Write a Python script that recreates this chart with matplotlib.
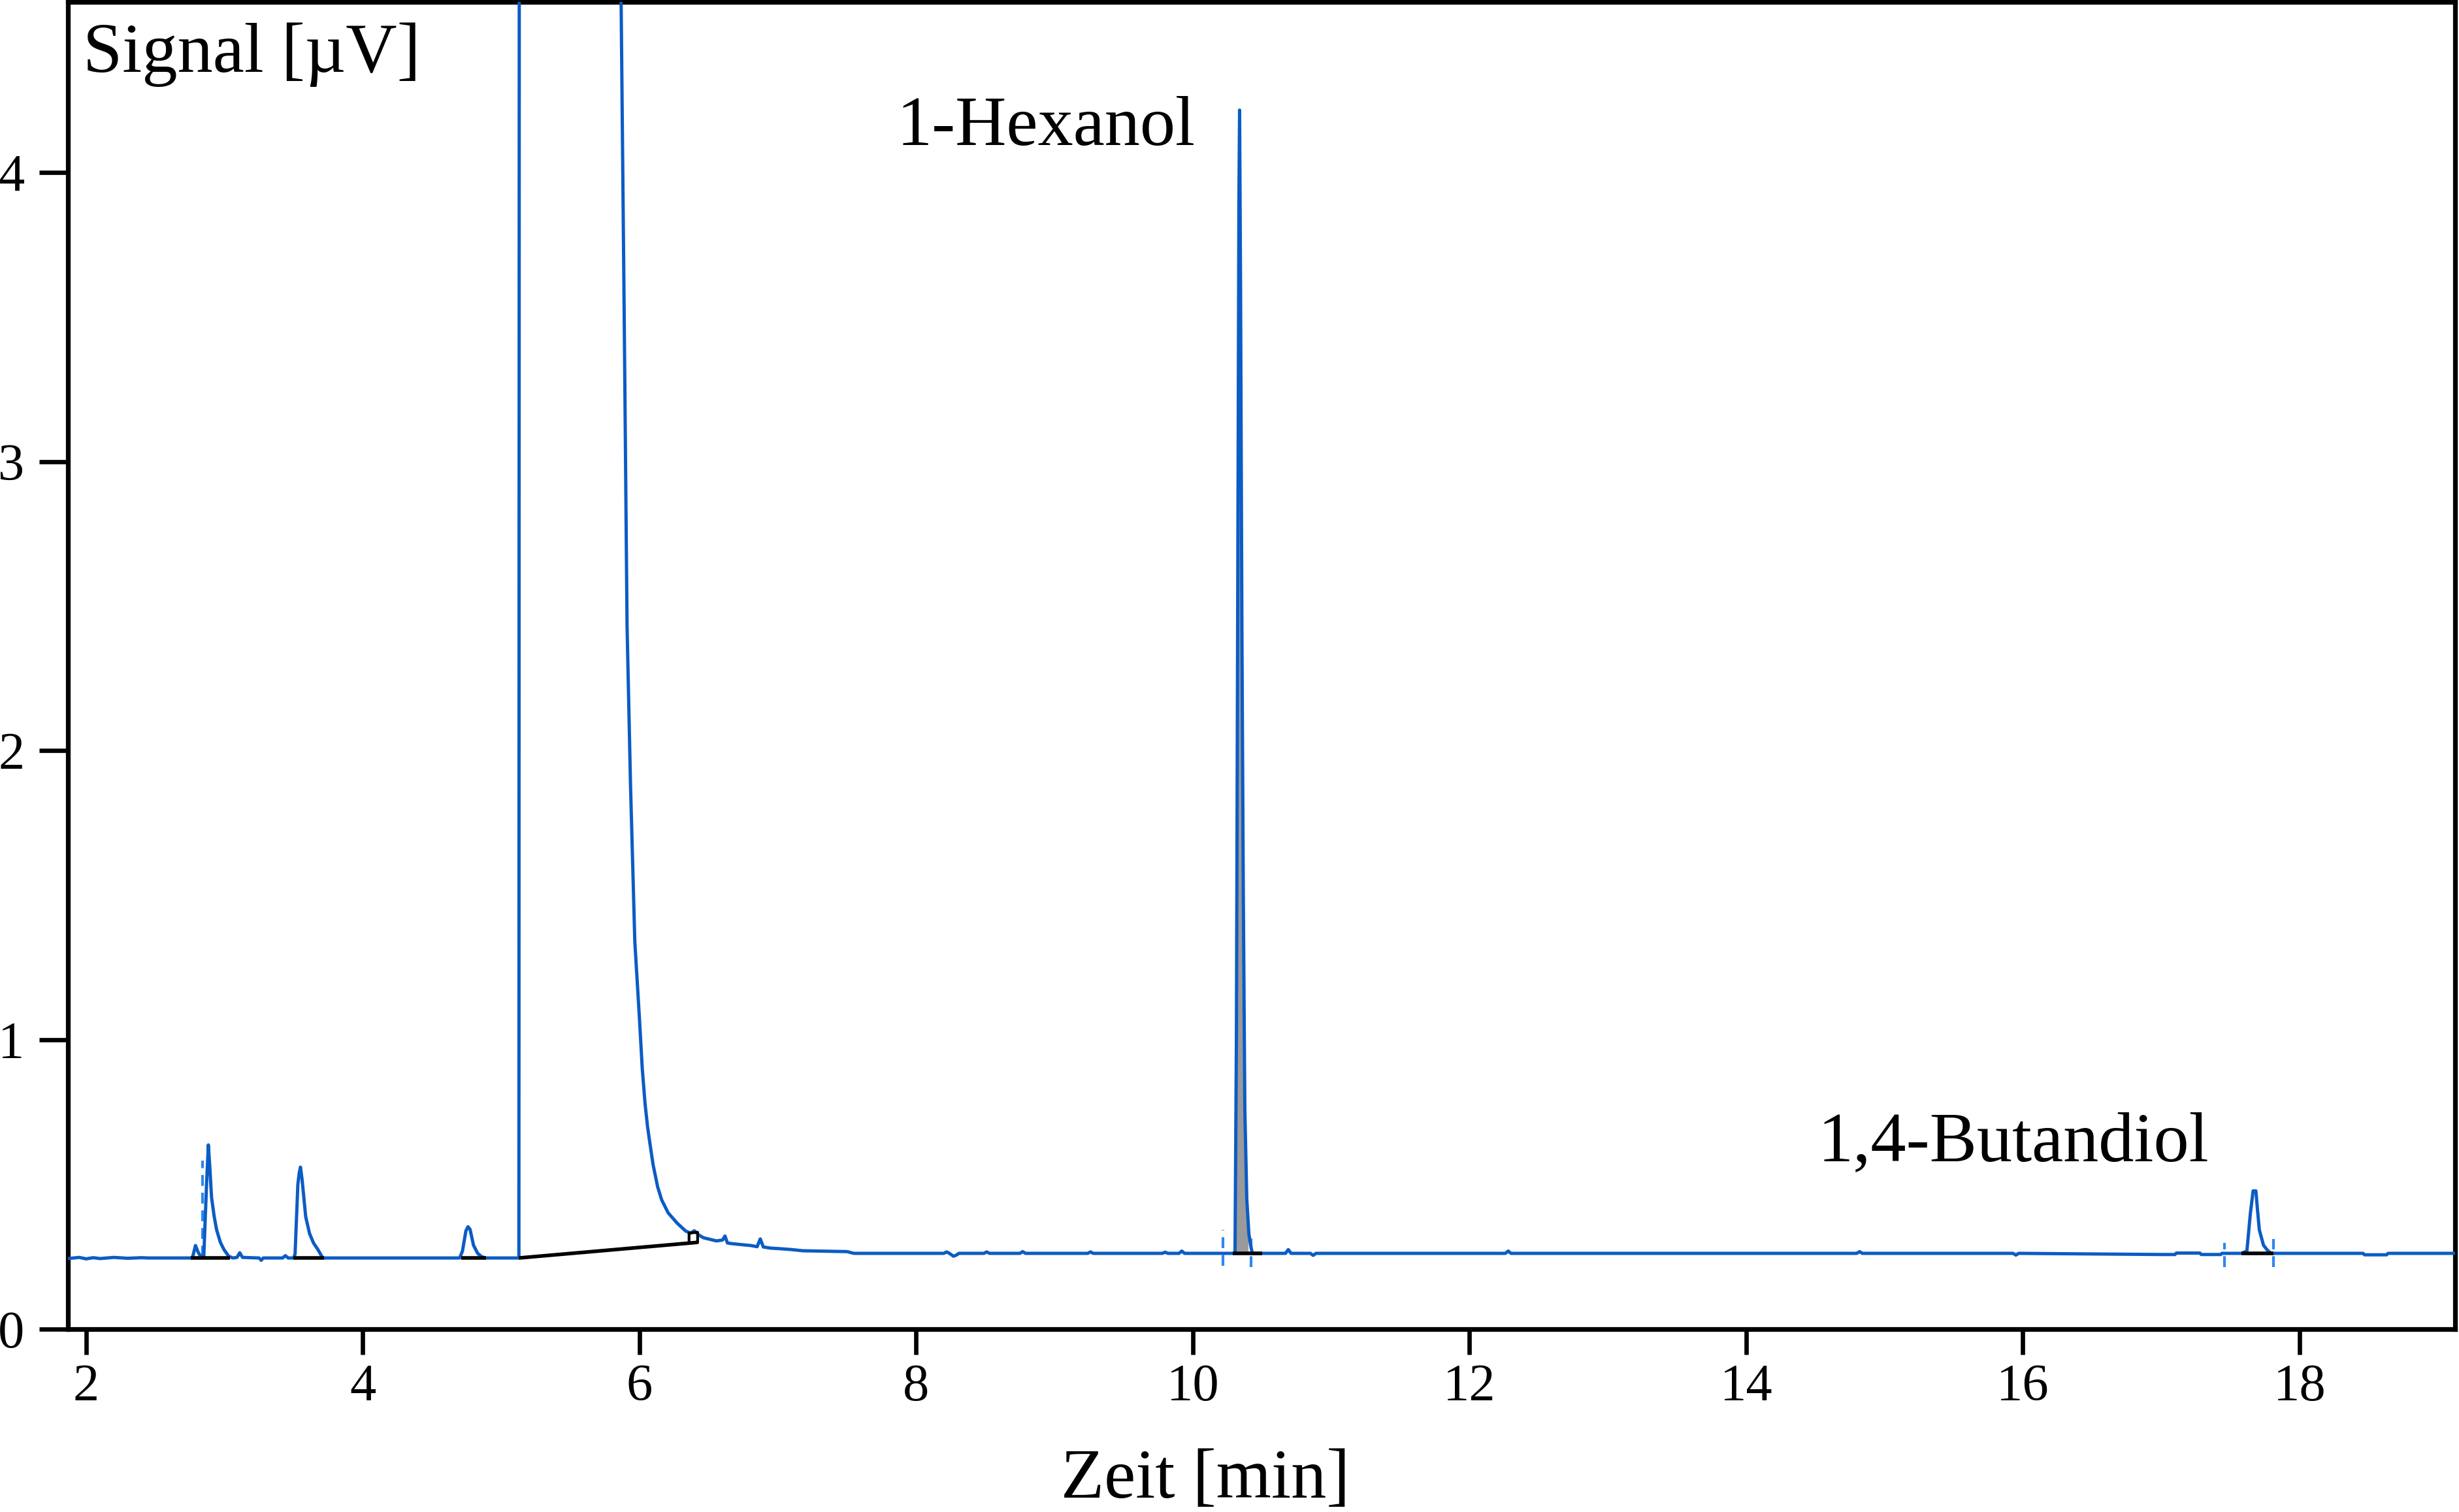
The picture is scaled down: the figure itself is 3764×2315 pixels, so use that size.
import matplotlib
matplotlib.use("Agg")
import matplotlib.pyplot as plt

plt.rcParams['font.family'] = ['Liberation Serif', 'DejaVu Serif']

# ---------------- data ----------------
time = [1.868, 1.95, 2.0, 2.05, 2.1, 2.2, 2.3, 2.4, 2.45,
        2.755, 2.77, 2.79, 2.81, 2.83, 2.85, 2.87, 2.883, 2.895, 2.906, 2.925, 2.943, 2.97, 2.996, 3.03, 3.06,
        3.09, 3.11, 3.13, 3.25, 3.265, 3.28, 3.42, 3.44, 3.46,
        3.50, 3.51, 3.53, 3.54, 3.549, 3.56, 3.587, 3.615, 3.643, 3.675, 3.705, 3.72,
        4.70, 4.72, 4.745, 4.76, 4.775, 4.80, 4.83, 4.86, 4.89,
        5.128, 5.132, 5.862, 5.867, 5.89, 5.91, 5.935, 5.966, 6.0, 6.02, 6.04, 6.058, 6.075, 6.098,
        6.131, 6.16, 6.207, 6.273, 6.334, 6.37, 6.396, 6.43, 6.462, 6.556, 6.60, 6.618, 6.635, 6.66,
        6.72, 6.806, 6.85, 6.873, 6.895, 6.95, 7.02, 7.1, 7.18, 7.5, 7.55,
        8.2, 8.22, 8.24, 8.27, 8.29, 8.31, 8.49, 8.51, 8.53, 8.75, 8.77, 8.79,
        9.24, 9.26, 9.28, 9.78, 9.80, 9.82, 9.90, 9.92, 9.94,
        10.29, 10.305, 10.315, 10.325, 10.333, 10.338, 10.345, 10.355, 10.365, 10.376, 10.39,
        10.405, 10.418, 10.43,
        10.67, 10.69, 10.71, 10.85, 10.87, 10.89,
        12.26, 12.28, 12.30, 14.80, 14.82, 14.84, 15.93, 15.95, 15.97,
        17.0, 17.1, 17.11, 17.28, 17.29, 17.43, 17.44,
        17.58, 17.62, 17.645, 17.665, 17.685, 17.697, 17.71, 17.74, 17.77, 17.79, 17.81,
        18.46, 18.47, 18.63, 18.64, 19.13]

signal = [0.244, 0.248, 0.243, 0.247, 0.244, 0.248, 0.245, 0.247, 0.246,
          0.246, 0.25, 0.289, 0.265, 0.25, 0.25, 0.50, 0.637, 0.55, 0.456, 0.39, 0.343, 0.30, 0.275, 0.252, 0.246,
          0.248, 0.264, 0.248, 0.246, 0.238, 0.246, 0.246, 0.254, 0.246,
          0.246, 0.26, 0.50, 0.54, 0.56, 0.52, 0.388, 0.33, 0.298, 0.275, 0.25, 0.246,
          0.246, 0.27, 0.34, 0.354, 0.345, 0.29, 0.262, 0.25, 0.246,
          0.246, 7.0, 7.0, 4.59, 3.47, 2.43, 1.88, 1.34, 1.07, 0.90, 0.78, 0.70, 0.643, 0.569,
          0.492, 0.447, 0.402, 0.366, 0.339, 0.332, 0.340, 0.325, 0.316, 0.305, 0.308, 0.322, 0.298, 0.296,
          0.293, 0.289, 0.285, 0.312, 0.284, 0.280, 0.278, 0.275, 0.271, 0.268, 0.262,
          0.262, 0.267, 0.262, 0.252, 0.256, 0.262, 0.262, 0.267, 0.262, 0.262, 0.268, 0.262,
          0.262, 0.267, 0.262, 0.262, 0.266, 0.262, 0.262, 0.270, 0.262,
          0.262, 0.265, 1.0, 2.6, 3.9, 4.215, 3.6, 2.4, 1.5, 0.76, 0.45,
          0.33, 0.29, 0.262,
          0.262, 0.275, 0.262, 0.262, 0.255, 0.262,
          0.262, 0.270, 0.262, 0.262, 0.268, 0.262, 0.262, 0.256, 0.262,
          0.258, 0.258, 0.263, 0.263, 0.258, 0.258, 0.262,
          0.262, 0.27, 0.40, 0.478, 0.478, 0.41, 0.343, 0.29, 0.272, 0.264, 0.262,
          0.262, 0.257, 0.257, 0.262, 0.262]

# integrated peak (1-Hexanol) shaded area
hex_time = [10.30, 10.315, 10.325, 10.333, 10.338, 10.345, 10.355, 10.365, 10.376, 10.39, 10.40]
hex_signal = [0.262, 1.0, 2.6, 3.9, 4.215, 3.6, 2.4, 1.5, 0.76, 0.45, 0.37]
hex_base = 0.262

# integration baselines (black)
base_t0 = [2.755, 3.497, 4.71, 5.128, 10.29, 17.58]
base_t1 = [3.04, 3.72, 4.89, 6.42, 10.50, 17.81]
base_v0 = [0.246, 0.246, 0.246, 0.246, 0.262, 0.262]
base_v1 = [0.246, 0.246, 0.246, 0.300, 0.262, 0.262]

# small end-of-peak box at the solvent tail
box_t = [6.358, 6.358, 6.42, 6.42]
box_v = [0.300, 0.332, 0.335, 0.300]

# dashed integration markers
mark_t = [2.84, 10.22, 10.42, 17.46, 17.81]
mark_lo = [0.25, 0.219, 0.214, 0.214, 0.214]
mark_hi = [0.582, 0.343, 0.32, 0.298, 0.311]

x_ticks = [2, 4, 6, 8, 10, 12, 14, 16, 18]
y_ticks = [0, 1, 2, 3, 4]

labels = ["1-Hexanol", "1,4-Butandiol"]
label_t = [7.859, 14.52]
label_v = [4.095, 0.582]

# ---------------- figure ----------------
W, H, DPI = 3764, 2315, 200
fig = plt.figure(figsize=(W / DPI, H / DPI), dpi=DPI)
ax = fig.add_axes([104 / W, 1 - 2035 / H, (3758 - 104) / W, (2035 - 3) / H])

blue = '#0b5cc5'
ax.fill_between(hex_time, hex_signal, hex_base, color='#9a9a9a', lw=0, zorder=1)
ax.plot(time, signal, color=blue, lw=1.8, zorder=3, solid_joinstyle='round')

for t0, t1, v0, v1 in zip(base_t0, base_t1, base_v0, base_v1):
    ax.plot([t0, t1], [v0, v1], color='black', lw=2.0, zorder=4, solid_capstyle='butt')
ax.plot(box_t, box_v, color='black', lw=1.5, zorder=4)

for t, lo, hi in zip(mark_t, mark_lo, mark_hi):
    ax.plot([t, t], [lo, hi], color='#2f86f0', lw=1.5, ls=(0, (4, 2.5)), zorder=2)

for s, t, v in zip(labels, label_t, label_v):
    ax.text(t, v, s, fontsize=39, ha='left', va='baseline', color='black')

ax.text(23 / 3654, (2035 - 110) / 2032, "Signal [µV]", transform=ax.transAxes,
        fontsize=39, ha='left', va='baseline')
fig.text(1845 / W, 1 - 2293 / H, "Zeit [min]", fontsize=39, ha='center', va='baseline')

ax.set_xlim(1.868, 19.125)
ax.set_ylim(0, 4.589)
ax.set_xticks(x_ticks)
ax.set_yticks(y_ticks)
ax.set_xticklabels([str(v) for v in x_ticks])
ax.set_yticklabels([str(v) for v in y_ticks])
ax.tick_params(axis='x', direction='out', length=14, width=2.4, labelsize=29, pad=5)
ax.tick_params(axis='y', direction='out', length=16, width=2.4, labelsize=29, pad=8)
for sp in ax.spines.values():
    sp.set_linewidth(2.6)

fig.savefig("out.png", dpi=DPI, facecolor='white')
